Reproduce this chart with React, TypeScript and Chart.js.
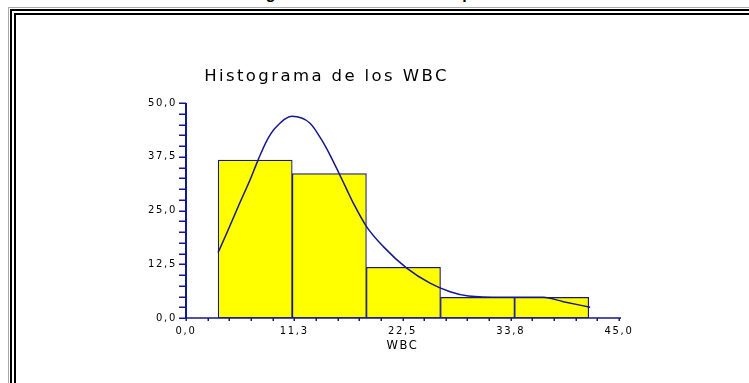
import React, { useEffect, useRef } from 'react';
import { Chart, registerables } from 'chart.js';

Chart.register(...registerables);

const pageTitle = 'Histograma de los WBC de los pacientes';
const chartTitle = 'Histograma de los WBC';
const xAxisTitle = 'WBC';

// Histogram bins (WBC) and bar heights
const binEdges = [3.33, 11.05, 18.75, 26.45, 34.15, 41.85];
const binValues = [36.7, 33.6, 11.8, 4.8, 4.8];

// Fitted density curve
const curveX = [3.33, 4.23, 5.44, 6.65, 7.52, 8.39, 9.25, 11.0, 12.89, 14.1, 14.97, 15.83, 16.7, 17.39, 18.78, 20.51, 22.94, 25.36, 27.44, 29.35, 32.98, 37.14, 39.22, 42.0];
const curveY = [15.2, 19.7, 26.0, 32.1, 36.9, 41.2, 44.1, 46.9, 45.3, 41.4, 37.9, 34.0, 29.9, 26.7, 21.2, 16.6, 11.6, 8.1, 6.1, 5.1, 4.8, 4.8, 3.8, 2.5];

const xTickLabels = ['0,0', '11,3', '22,5', '33,8', '45,0'];
const yTickLabels = ['0,0', '12,5', '25,0', '37,5', '50,0'];
const xMin = 0;
const xMax = 45;
const xStep = 11.25;
const xMinorStep = 2.25;
const yMin = 0;
const yMax = 50;
const yStep = 12.5;
const yMinorStep = 2.5;

const NAVY = '#16168e';
const FONT = 'DejaVu Sans, Verdana, sans-serif';
const PAGE_FONT = 'Liberation Sans, Arial, Helvetica, sans-serif';

const spacingPlugin = {
  id: 'letterSpacing',
  beforeDraw(chart: any) {
    chart.ctx.letterSpacing = '1.7px';
    const tb = chart.titleBlock;
    if (tb && !tb.__spaced) {
      const orig = tb.draw.bind(tb);
      tb.draw = (...args: any[]) => {
        const ctx = chart.ctx;
        const prev = ctx.letterSpacing;
        ctx.letterSpacing = '2.4px';
        orig(...args);
        ctx.letterSpacing = prev;
      };
      tb.__spaced = true;
    }
  },
  afterDraw(chart: any) {
    chart.ctx.letterSpacing = '0px';
  },
};

const axesPlugin = {
  id: 'customAxes',
  afterDatasetsDraw(chart: any) {
    const { ctx, scales } = chart;
    const x = scales.x;
    const y = scales.y;
    const x0 = x.getPixelForValue(xMin);
    const y0 = y.getPixelForValue(yMin);
    ctx.save();
    ctx.strokeStyle = NAVY;
    // y axis line
    ctx.lineWidth = 2;
    ctx.beginPath();
    ctx.moveTo(x0, y0 + 1);
    ctx.lineTo(x0, y.getPixelForValue(yMax));
    ctx.stroke();
    // y ticks
    ctx.lineWidth = 1.5;
    for (let v = yMin; v <= yMax + 1e-6; v += yMinorStep) {
      const py = Math.round(y.getPixelForValue(v)) + 0.25;
      ctx.beginPath();
      ctx.moveTo(x0 - 7, py);
      ctx.lineTo(x0, py);
      ctx.stroke();
    }
    // x axis line
    ctx.lineWidth = 1.5;
    ctx.beginPath();
    ctx.moveTo(x0, y0);
    ctx.lineTo(x.getPixelForValue(xMax) + 2, y0);
    ctx.stroke();
    // x ticks
    for (let v = xMin; v <= xMax + 1e-6; v += xMinorStep) {
      const px = Math.round(x.getPixelForValue(v)) + 0.25;
      ctx.beginPath();
      ctx.moveTo(px, y0);
      ctx.lineTo(px, y0 + 3);
      ctx.stroke();
    }
    ctx.restore();
  },
};

function HistogramChart() {
  const ref = useRef<HTMLCanvasElement | null>(null);

  useEffect(() => {
    if (!ref.current) return;
    const barData = binValues.map((v, i) => ({ x: (binEdges[i] + binEdges[i + 1]) / 2, y: v }));
    const curveData = curveX.map((v, i) => ({ x: v, y: curveY[i] }));
    const chart = new Chart(ref.current, {
      type: 'bar',
      data: {
        datasets: [
          {
            type: 'line',
            data: curveData,
            borderColor: NAVY,
            borderWidth: 1.5,
            pointRadius: 0,
            fill: false,
            cubicInterpolationMode: 'monotone',
            order: 0,
          } as any,
          {
            type: 'bar',
            data: barData,
            backgroundColor: '#ffff00',
            borderColor: NAVY,
            borderWidth: 1.2,
            borderSkipped: false,
            barPercentage: 1,
            categoryPercentage: 1,
            order: 1,
          } as any,
        ],
      },
      options: {
        animation: false,
        responsive: false,
        devicePixelRatio: 1,
        events: [],
        layout: { padding: { left: 34, right: 130, top: 0, bottom: 0 } },
        plugins: {
          legend: { display: false },
          tooltip: { enabled: false },
          title: {
            display: true,
            text: chartTitle,
            color: '#000',
            font: { family: FONT, size: 16.5, weight: 'normal', lineHeight: 1 },
            padding: { top: 68.5, bottom: 18 },
          },
        },
        scales: {
          x: {
            type: 'linear',
            offset: false,
            min: xMin,
            max: xMax,
            afterFit: (s: any) => {
              s.height = 65;
            },
            grid: { display: false, drawTicks: false, offset: false },
            border: { display: false },
            ticks: {
              stepSize: xStep,
              autoSkip: false,
              maxRotation: 0,
              padding: 7,
              color: '#000',
              font: { family: FONT, size: 10 },
              callback: (_v: any, i: number) => xTickLabels[i],
            },
            title: {
              display: true,
              text: xAxisTitle,
              color: '#000',
              font: { family: FONT, size: 11.5 },
              padding: { top: 0, bottom: 30 },
            },
          },
          y: {
            type: 'linear',
            min: yMin,
            max: yMax,
            afterFit: (s: any) => {
              s.width = 152;
            },
            grid: { display: false, drawTicks: false },
            border: { display: false },
            ticks: {
              stepSize: yStep,
              padding: 9,
              color: '#000',
              font: { family: FONT, size: 10 },
              callback: (_v: any, i: number) => yTickLabels[i],
            },
          },
        },
      } as any,
      plugins: [spacingPlugin, axesPlugin],
    });
    return () => chart.destroy();
  }, []);

  return <canvas ref={ref} width={749} height={383} style={{ position: 'absolute', left: 0, top: 0 }} />;
}

export default function App() {
  return (
    <div style={{ position: 'absolute', left: 0, top: 0, width: 749, height: 383, overflow: 'hidden', background: '#fff' }}>
      <div
        style={{
          position: 'absolute',
          top: -14,
          left: 0,
          width: 762,
          textAlign: 'center',
          fontFamily: PAGE_FONT,
          fontWeight: 'bold',
          fontSize: 16,
          lineHeight: '16px',
          color: '#000',
          whiteSpace: 'nowrap',
        }}
      >
        {pageTitle}
      </div>
      <div style={{ position: 'absolute', left: 8, top: 7, width: 760, height: 400, borderLeft: '1px solid #aaa', borderTop: '1px solid #aaa' }} />
      <div style={{ position: 'absolute', left: 10, top: 9, width: 760, height: 400, borderLeft: '2px solid #000', borderTop: '2px solid #000' }} />
      <div style={{ position: 'absolute', left: 14, top: 13, width: 760, height: 400, borderLeft: '2px solid #000', borderTop: '2px solid #000' }} />
      <HistogramChart />
    </div>
  );
}
